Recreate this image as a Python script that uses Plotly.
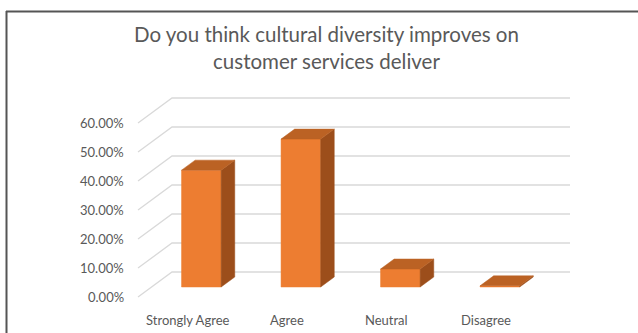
import plotly.graph_objects as go

# ---- data ----
categories = ["Strongly Agree", "Agree", "Neutral", "Disagree"]
values = [40.3, 51.0, 6.2, 0.4]           # percent
y_ticks = [0, 10, 20, 30, 40, 50, 60]
y_tick_labels = ["0.00%", "10.00%", "20.00%", "30.00%", "40.00%", "50.00%", "60.00%"]
title_text = "Do you think cultural diversity improves on<br>customer services deliver"

# ---- 3D (oblique) projection parameters ----
W, H = 638, 333
PX_PER_CAT = 99.5          # pixels per category
PX_PER_PCT = 2.9           # pixels per percent
X0_PX = 138                # front-left floor corner x (pixels)
Y0_PX = 297                # front 0% y (pixels from top)
DX = 34 / PX_PER_CAT       # full depth offset, category units
DY = 25 / PX_PER_PCT       # full depth offset, percent units
HALF_W = 0.199             # half bar width (category units)
F_DEPTH, B_DEPTH = 0.4, 0.8

x_lo = -0.5 - X0_PX / PX_PER_CAT
x_hi = x_lo + W / PX_PER_CAT
y_hi = Y0_PX / PX_PER_PCT
y_lo = y_hi - H / PX_PER_PCT

FRONT = "#ED7D31"
TOP = "#BB6224"
SIDE = "#9C4E1B"
GRID = "#D9D9D9"
TXT = "#595959"
FONT = "Lato"

fig = go.Figure()

# gridlines: left side wall diagonals + back wall horizontals
gx, gy = [], []
n = len(categories)
for t in y_ticks:
    gx += [-0.5, -0.5 + DX, n - 0.5 + DX, None]
    gy += [t, t + DY, t + DY, None]
fig.add_trace(go.Scatter(x=gx, y=gy, mode="lines",
                         line=dict(color=GRID, width=1.3),
                         hoverinfo="skip"))

def poly(xs, ys, color):
    fig.add_trace(go.Scatter(x=xs + [xs[0]], y=ys + [ys[0]], mode="lines",
                             fill="toself", fillcolor=color,
                             line=dict(color=color, width=0.5),
                             hoverinfo="skip"))

for i, v in enumerate(values):
    fx, fy = F_DEPTH * DX, F_DEPTH * DY
    bx, by = B_DEPTH * DX, B_DEPTH * DY
    l, r = i - HALF_W, i + HALF_W
    # front face
    poly([l + fx, r + fx, r + fx, l + fx], [fy, fy, v + fy, v + fy], FRONT)
    # right side face
    poly([r + fx, r + bx, r + bx, r + fx], [fy, by, v + by, v + fy], SIDE)
    # top face
    poly([l + fx, r + fx, r + bx, l + bx], [v + fy, v + fy, v + by, v + by], TOP)

annotations = []
for t, lab in zip(y_ticks, y_tick_labels):
    annotations.append(dict(x=-0.5, y=t, xref="x", yref="y", text=lab,
                            showarrow=False, xanchor="right", yanchor="middle",
                            xshift=-12, font=dict(family=FONT, size=13, color=TXT)))
for i, c in enumerate(categories):
    annotations.append(dict(x=i, y=0, xref="x", yref="y", text=c,
                            showarrow=False, xanchor="center", yanchor="middle",
                            yshift=-23, font=dict(family=FONT, size=13, color=TXT)))
annotations.append(dict(x=326.5 / W, y=1 - 48 / H, xref="paper", yref="paper",
                        text=title_text, showarrow=False, xanchor="center",
                        yanchor="middle", align="center",
                        font=dict(family=FONT, size=20.5, color=TXT)))

shapes = [
    dict(type="line", xref="paper", yref="paper", x0=6 / W, x1=1,
         y0=1 - 11.5 / H, y1=1 - 11.5 / H, line=dict(color="#555555", width=2)),
    dict(type="line", xref="paper", yref="paper", x0=6.5 / W, x1=6.5 / W,
         y0=1 - 11 / H, y1=0, line=dict(color="#555555", width=2)),
]

fig.update_layout(
    width=W, height=H, margin=dict(l=0, r=0, t=0, b=0),
    paper_bgcolor="white", plot_bgcolor="white", showlegend=False,
    xaxis=dict(range=[x_lo, x_hi], visible=False, fixedrange=True),
    yaxis=dict(range=[y_lo, y_hi], visible=False, fixedrange=True),
    annotations=annotations, shapes=shapes,
)

fig.write_html("out.html")
